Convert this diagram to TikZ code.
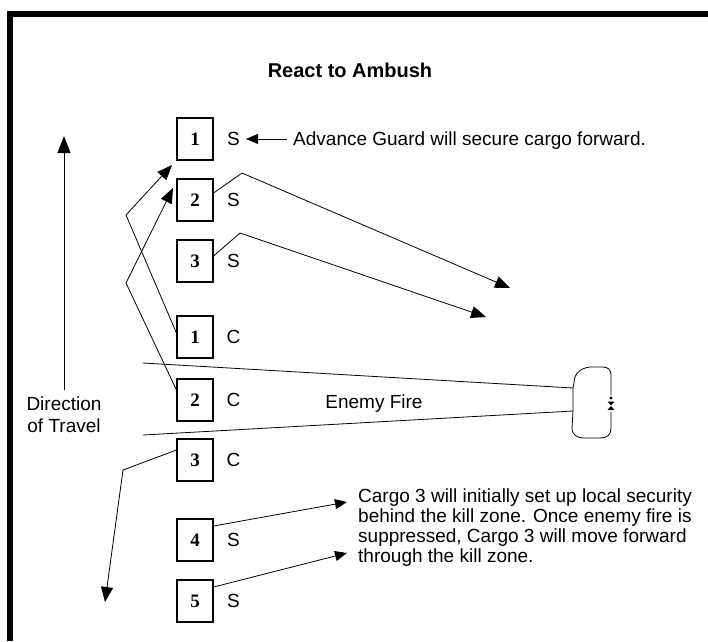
\documentclass[tikz,border=0pt]{standalone}
\usepackage{fontspec}
\setmainfont{Liberation Sans}
\newfontfamily\numfont{Liberation Serif}
\usetikzlibrary{arrows.meta}
\begin{document}
\begin{tikzpicture}[x=1pt,y=-1pt,
  unitbox/.style={draw, line width=1.1pt, minimum width=36pt, minimum height=42pt, inner sep=0pt, font=\numfont\bfseries\fontsize{19}{19}\selectfont},
  lbl/.style={anchor=base, inner sep=0pt, font=\fontsize{19}{20}\selectfont},
  txt/.style={anchor=base west, inner sep=0pt, font=\fontsize{19}{20}\selectfont},
  conn/.style={line width=0.8pt},
  arr/.style={conn, -{Triangle[length=15pt,width=12pt]}},
  sarr/.style={conn, -{Triangle[length=12pt,width=10pt]}},
  bigarr/.style={conn, -{Triangle[length=17pt,width=13pt]}}]
\useasboundingbox (0,0) rectangle (708,641);
% frame
\draw[line width=6pt] (10,641) -- (10,14) -- (708,14);
% title
\node[anchor=base, inner sep=0pt, font=\bfseries\fontsize{20}{22}\selectfont] (title) at (350,77) {React to Ambush};
% unit boxes
\node[unitbox] (b1s) at (195,139) {1};
\node[unitbox] (b2s) at (195,200) {2};
\node[unitbox] (b3s) at (195,261) {3};
\node[unitbox] (b1c) at (195,337) {1};
\node[unitbox] (b2c) at (195,400) {2};
\node[unitbox] (b3c) at (195,460) {3};
\node[unitbox] (b4s) at (195,540) {4};
\node[unitbox] (b5s) at (195,601) {5};
% labels
\node[lbl] (l1s) at (233.5,145.5) {S};
\node[lbl] (l2s) at (233.5,206.5) {S};
\node[lbl] (l3s) at (233.5,267.5) {S};
\node[lbl] (l1c) at (233.5,343.5) {C};
\node[lbl] (l2c) at (233.5,406.5) {C};
\node[lbl] (l3c) at (233.5,466.5) {C};
\node[lbl] (l4s) at (233.5,546.5) {S};
\node[lbl] (l5s) at (233.5,607.5) {S};
% advance guard note
\node[txt] (adv) at (293,145.5) {Advance Guard will secure cargo forward.};
\draw[sarr] ([xshift=-6pt]adv.west |- l1s.east) -- ([xshift=6pt]l1s.east);
% direction of travel
\coordinate (dirlow) at (64,390);
\coordinate (dirtip) at (64,136);
\draw[bigarr] (dirlow) -- (dirtip);
\node[anchor=north, inner sep=0pt, align=center, font=\fontsize{19}{22}\selectfont] (dir) at (64,397) {Direction\\of Travel};
% crossing moves of cargo 1 and 2
\coordinate (bendA) at (126,215);
\coordinate (tipA) at (172,165);
\draw[arr] ([yshift=4pt]b1c.west) -- (bendA) -- (tipA);
\coordinate (bendB) at (126,283);
\coordinate (tipB) at (173,188);
\draw[arr] ([yshift=10pt]b2c.west) -- (bendB) -- (tipB);
% security 2 and 3 moves
\coordinate (bend2) at (242,173);
\coordinate (tip2) at (510,288);
\draw[arr] ([yshift=7pt]b2s.east) -- (bend2) -- (tip2);
\coordinate (bend3) at (240,233);
\coordinate (tip3) at (486,317);
\draw[arr] ([yshift=5pt]b3s.east) -- (bend3) -- (tip3);
% cargo 3 move
\coordinate (bend3c) at (123,470);
\coordinate (tip3c) at (105,602);
\draw[arr] ([yshift=10pt]b3c.west) -- (bend3c) -- (tip3c);
% enemy fire
\coordinate (fa) at (143,363);
\coordinate (fb) at (573,388);
\coordinate (fc) at (143,435);
\coordinate (fd) at (573,411);
\draw[conn] (fa) -- (fb);
\draw[conn] (fc) -- (fd);
\node[anchor=base, inner sep=0pt, font=\fontsize{19}{20}\selectfont] (fire) at (374,408) {Enemy Fire};
% enemy position
\draw[conn] (611,395) -- (611,376) .. controls (611,369) and (608,367) .. (602,367)
  -- (590,367) .. controls (580,368) and (574,374) .. (574,383) -- (fb) -- (fd)
  -- (572,428) .. controls (572,435) and (577,438) .. (585,438) -- (600,438)
  .. controls (607,438) and (611,435) .. (611,428) -- (611,412);
\fill (611,398) circle (1.6pt);
\fill (607.5,401.5) -- (614.5,401.5) -- (611,405.5) -- cycle;
\fill (607.5,410) -- (614.5,410) -- (611,406) -- cycle;
% cargo 3 note
\node[txt] (n1) at (358,502) {Cargo 3 will initially set up local security};
\node[txt] (n2) at (358,522) {behind the kill zone. Once enemy fire is};
\node[txt] (n3) at (358,542) {suppressed, Cargo 3 will move forward};
\node[txt] (n4) at (358,562) {through the kill zone.};
\coordinate (tip4) at (347,502);
\coordinate (tip5) at (347,553);
\draw[sarr] ([yshift=14pt]b4s.east) -- (tip4);
\draw[sarr] ([yshift=14pt]b5s.east) -- (tip5);
\end{tikzpicture}
\end{document}
